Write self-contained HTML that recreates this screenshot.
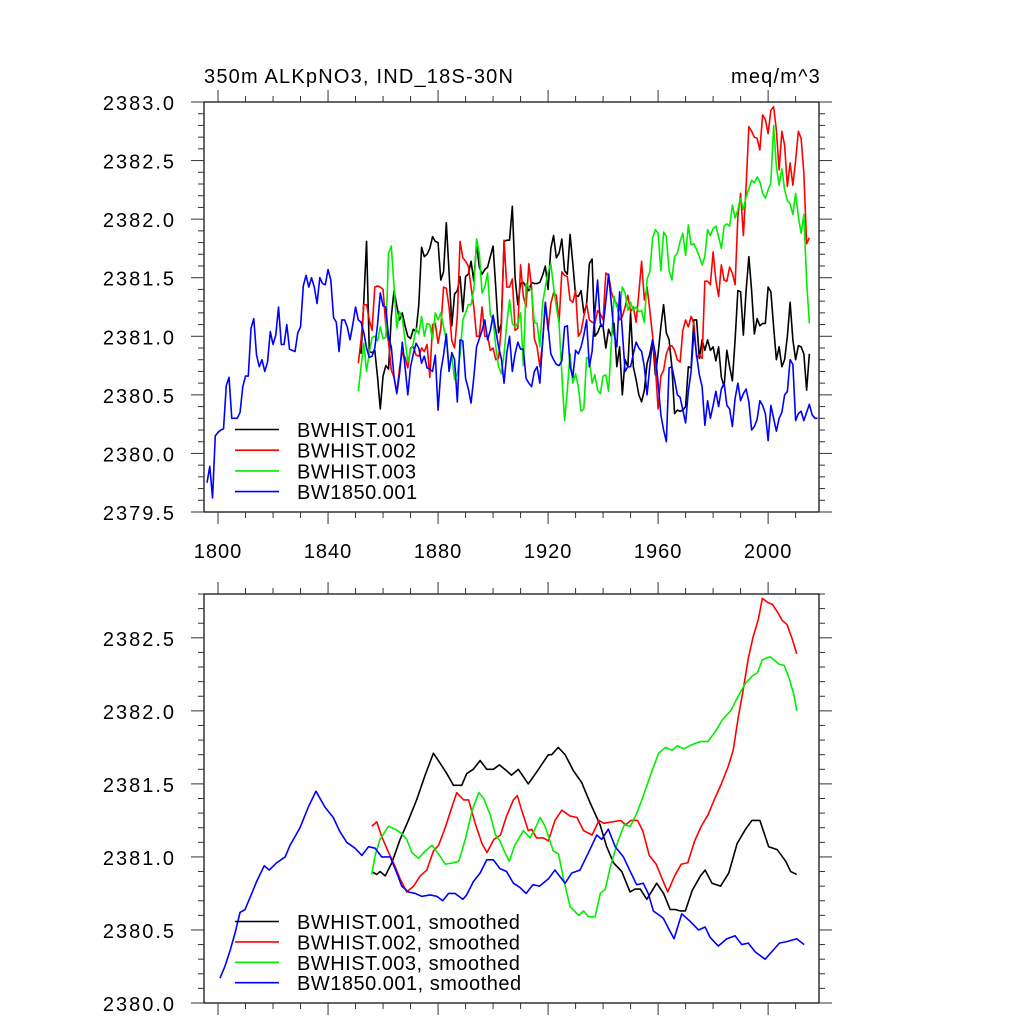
<!DOCTYPE html>
<html><head><meta charset="utf-8"><style>
html,body{margin:0;padding:0;background:#fff;}
svg{display:block;font-family:"Liberation Sans",Arial,sans-serif;}
</style></head><body>
<svg id="chart" width="1024" height="1024" viewBox="0 0 1024 1024" xmlns="http://www.w3.org/2000/svg">
<rect width="1024" height="1024" fill="#fff"/>
<text x="204" y="83" font-size="20" letter-spacing="1.2">350m ALKpNO3, IND_18S-30N</text>
<text x="821" y="83" font-size="20" letter-spacing="1.2" text-anchor="end">meq/m^3</text>
<g id="top"></g>
<g id="bot"></g>
</svg>
<script>
// ---- data: annual series (top panel) ----
const blueStart = 1796;
const blueVals = [2379.75,2379.89,2379.62,2380.15,2380.18,2380.20,2380.21,2380.58,2380.65,2380.30,2380.30,2380.30,2380.35,2380.57,2380.66,2380.66,2381.07,2381.15,2380.84,2380.74,2380.80,2380.70,2380.78,2381.04,2380.93,2381.01,2381.25,2380.93,2380.93,2381.10,2380.89,2380.88,2380.87,2381.03,2381.08,2381.43,2381.52,2381.42,2381.50,2381.42,2381.28,2381.50,2381.45,2381.44,2381.57,2381.48,2381.16,2381.12,2380.87,2381.14,2381.14,2381.08,2380.97,2381.10,2381.25,2381.14,2381.12,2381.03,2380.90,2380.82,2380.83,2380.90,2381.10,2381.37,2381.26,2381.25,2380.99,2380.91,2380.65,2380.51,2380.68,2380.95,2380.74,2380.50,2380.74,2380.85,2380.94,2380.90,2380.77,2380.83,2380.73,2380.72,2380.70,2380.84,2380.37,2380.70,2380.84,2381.02,2380.70,2380.86,2380.80,2380.44,2380.97,2380.96,2380.64,2380.55,2380.43,2380.65,2380.91,2380.98,2381.05,2381.14,2380.97,2381.05,2381.18,2381.05,2380.91,2380.81,2380.60,2380.86,2381.00,2380.70,2380.85,2380.95,2380.89,2380.89,2380.64,2380.60,2380.57,2380.70,2380.74,2380.60,2380.95,2381.29,2381.08,2380.85,2380.80,2380.76,2380.75,2380.79,2381.08,2381.09,2380.74,2380.65,2380.88,2380.85,2380.91,2381.01,2381.14,2380.74,2380.87,2381.20,2381.48,2381.11,2381.08,2381.30,2381.53,2381.28,2381.02,2380.91,2381.38,2381.04,2380.70,2380.74,2380.74,2380.85,2380.95,2380.90,2380.87,2380.74,2380.50,2380.75,2380.97,2380.85,2380.60,2380.33,2380.20,2380.10,2380.73,2380.74,2380.63,2380.50,2380.48,2380.37,2380.26,2380.53,2380.70,2381.04,2380.84,2380.67,2380.57,2380.24,2380.45,2380.30,2380.41,2380.53,2380.40,2380.55,2380.60,2380.41,2380.38,2380.23,2380.47,2380.60,2380.45,2380.51,2380.55,2380.44,2380.20,2380.23,2380.29,2380.45,2380.41,2380.34,2380.11,2380.41,2380.30,2380.19,2380.30,2380.35,2380.50,2380.53,2380.80,2380.76,2380.28,2380.34,2380.36,2380.28,2380.35,2380.42,2380.33,2380.30,2380.30];
const blackStart = 1852;
const blackVals = [2380.85,2381.30,2381.81,2380.87,2380.86,2380.88,2380.65,2380.38,2380.66,2380.75,2380.72,2381.17,2381.39,2381.26,2381.14,2381.20,2381.09,2381.00,2380.98,2381.06,2381.04,2381.27,2381.76,2381.68,2381.70,2381.75,2381.85,2381.81,2381.80,2381.48,2381.55,2381.97,2381.55,2381.09,2381.36,2381.39,2381.51,2381.21,2381.51,2381.53,2381.64,2381.47,2381.79,2381.59,2381.53,2381.57,2381.59,2381.68,2381.77,2381.41,2381.03,2381.11,2381.81,2381.82,2381.82,2382.11,2381.50,2381.27,2381.45,2381.46,2381.42,2381.39,2381.46,2381.45,2381.45,2381.46,2381.52,2381.60,2381.40,2381.75,2381.86,2381.67,2381.71,2381.83,2381.56,2381.53,2381.87,2381.62,2381.35,2381.34,2381.39,2381.20,2381.27,2381.62,2381.66,2381.00,2381.03,2381.09,2381.08,2380.90,2381.06,2381.00,2381.11,2380.74,2380.91,2380.50,2380.80,2380.74,2381.20,2380.74,2380.63,2380.50,2380.44,2380.54,2380.77,2380.85,2380.97,2380.67,2380.85,2381.08,2381.27,2381.03,2380.97,2380.74,2380.34,2380.37,2380.36,2380.37,2380.40,2380.74,2380.73,2381.14,2381.14,2380.81,2380.97,2380.88,2380.97,2380.88,2380.91,2380.79,2380.91,2380.65,2380.57,2380.88,2380.74,2380.62,2380.97,2381.39,2381.38,2381.01,2381.39,2381.68,2381.39,2381.02,2381.15,2381.09,2381.11,2381.11,2381.42,2381.38,2381.08,2380.80,2380.91,2380.74,2380.80,2381.00,2381.29,2380.97,2380.80,2380.92,2380.91,2380.85,2380.54,2380.85];
const redStart = 1851;
const redVals = [2380.77,2380.97,2381.27,2381.27,2381.14,2381.05,2381.42,2381.43,2381.42,2381.40,2381.09,2380.95,2380.71,2380.65,2380.52,2380.73,2380.86,2380.82,2380.73,2380.90,2380.91,2380.84,2380.83,2380.90,2380.87,2380.93,2380.65,2381.10,2381.11,2380.94,2381.07,2381.42,2381.41,2381.25,2380.96,2380.90,2381.17,2381.81,2381.67,2381.64,2381.60,2381.42,2381.25,2381.00,2381.00,2381.25,2381.00,2381.00,2380.88,2380.90,2380.80,2380.81,2381.08,2381.82,2381.42,2381.42,2381.49,2381.05,2381.07,2381.61,2381.34,2381.25,2381.62,2381.42,2380.98,2380.91,2380.74,2380.94,2381.29,2381.05,2381.28,2381.37,2381.35,2381.12,2381.55,2381.52,2381.51,2381.31,2381.29,2381.39,2381.00,2381.04,2381.17,2381.28,2381.14,2381.12,2381.11,2381.22,2381.19,2381.14,2381.54,2381.52,2381.38,2381.31,2381.28,2381.14,2381.17,2381.25,2381.35,2381.21,2381.25,2381.12,2381.37,2381.64,2381.31,2381.42,2381.22,2381.00,2380.74,2380.38,2380.66,2380.71,2380.85,2380.91,2380.92,2380.88,2380.80,2380.78,2381.05,2381.14,2381.08,2381.17,2381.11,2380.82,2380.84,2380.81,2381.47,2381.47,2381.44,2381.72,2381.48,2381.34,2381.61,2381.48,2381.47,2381.59,2381.54,2381.44,2382.02,2382.22,2381.86,2382.28,2382.79,2382.75,2382.70,2382.69,2382.59,2382.89,2382.85,2382.73,2382.93,2382.96,2382.76,2382.42,2382.75,2382.63,2382.28,2382.48,2382.29,2382.50,2382.75,2382.69,2382.39,2381.79,2381.84];
const greenStart = 1851;
const greenVals = [2380.53,2380.74,2380.94,2380.70,2380.86,2380.99,2381.00,2380.96,2381.08,2380.98,2380.99,2381.71,2381.77,2381.42,2381.07,2381.21,2381.15,2380.97,2380.78,2380.88,2380.94,2381.07,2381.02,2381.17,2381.00,2381.11,2381.10,2380.97,2381.20,2381.14,2381.20,2381.08,2380.97,2380.74,2380.83,2380.63,2380.68,2380.84,2381.14,2381.20,2381.27,2381.27,2381.40,2381.83,2381.71,2381.37,2381.42,2381.54,2381.18,2381.14,2380.91,2380.74,2380.68,2380.85,2381.11,2381.31,2381.11,2381.08,2381.11,2381.20,2380.75,2381.45,2381.42,2381.39,2381.12,2381.11,2380.91,2381.28,2381.42,2381.55,2381.62,2381.42,2381.25,2381.11,2380.68,2380.28,2380.54,2380.85,2380.60,2380.68,2380.57,2380.36,2380.38,2380.82,2380.80,2380.60,2380.67,2380.54,2380.51,2380.66,2380.67,2380.53,2380.94,2381.34,2381.25,2381.22,2381.42,2381.37,2381.22,2381.29,2381.22,2381.25,2381.21,2381.22,2381.12,2381.49,2381.55,2381.84,2381.91,2381.88,2381.56,2381.89,2381.85,2381.56,2381.48,2381.68,2381.71,2381.81,2381.88,2381.69,2381.95,2381.78,2381.79,2381.74,2381.68,2381.61,2381.68,2381.91,2381.86,2381.92,2381.94,2381.85,2381.75,2381.94,2381.96,2381.94,2382.12,2382.01,2382.08,2382.18,2382.08,2382.19,2382.26,2382.33,2382.31,2382.36,2382.32,2382.22,2382.18,2382.25,2382.31,2382.80,2382.45,2382.29,2382.43,2382.25,2382.16,2382.13,2382.04,2382.22,2382.02,2381.88,2382.04,2381.47,2381.11];

// ---- data: smoothed series (bottom panel) ----
const sBlueYears = [1800.7,1802.5,1804.4,1806.2,1808,1809.8,1811.6,1814,1816.8,1818.6,1821.3,1824.4,1826.2,1829.8,1832.8,1835.6,1838.9,1841.9,1844.4,1846.8,1849.8,1852.3,1854.7,1857.1,1859.5,1862.6,1865,1866.8,1869.2,1871.7,1874.1,1877.1,1879.6,1881.7,1883.8,1886.2,1889,1890.4,1892.8,1895.3,1897.7,1900.1,1902.5,1904.9,1907.4,1909.8,1912,1914.5,1916.9,1920.1,1922.5,1926.2,1928.6,1931.6,1934.7,1937.7,1939.5,1941.9,1944.4,1947.4,1949.9,1952.2,1954.6,1956.4,1958.3,1961.9,1963.8,1965.8,1968.6,1971.6,1974.7,1977.1,1978.9,1981.9,1985,1988,1990.4,1992.8,1995.3,1998.9,2001.3,2004.1,2006.8,2010.4,2013.1];
const sBlueVals = [2380.17,2380.25,2380.36,2380.48,2380.62,2380.64,2380.72,2380.83,2380.94,2380.91,2380.96,2381.00,2381.08,2381.20,2381.34,2381.45,2381.34,2381.27,2381.17,2381.10,2381.06,2381.01,2381.07,2381.06,2381.00,2381.00,2380.89,2380.80,2380.76,2380.75,2380.73,2380.74,2380.73,2380.70,2380.75,2380.75,2380.71,2380.74,2380.83,2380.89,2380.98,2380.98,2380.92,2380.90,2380.82,2380.79,2380.75,2380.81,2380.80,2380.85,2380.91,2380.82,2380.89,2380.91,2381.03,2381.15,2381.12,2381.19,2381.07,2381.00,2380.90,2380.81,2380.82,2380.75,2380.63,2380.58,2380.51,2380.44,2380.61,2380.56,2380.50,2380.52,2380.45,2380.39,2380.44,2380.46,2380.40,2380.41,2380.35,2380.30,2380.35,2380.41,2380.42,2380.44,2380.40];
const sBlackYears = [1855.9,1857.7,1858.9,1860.8,1863.2,1866.2,1869.2,1872.2,1875.3,1878.3,1880.8,1883.2,1885.6,1888.6,1890.4,1892.8,1895.3,1897.7,1900.1,1902.3,1904.9,1906.7,1909.2,1912.8,1915.8,1920.1,1921.3,1923.7,1926.2,1929.2,1932.2,1935.3,1938.9,1941.3,1943.8,1946.8,1949.8,1951.6,1953.5,1955.9,1959.5,1962,1964.4,1966.2,1968.1,1969.9,1972.4,1975.4,1977.1,1979.6,1982.7,1985.7,1988.7,1991.8,1994.1,1997,2000.2,2003.3,2006.4,2008.2,2010.4];
const sBlackVals = [2380.90,2380.88,2380.90,2380.87,2380.96,2381.12,2381.25,2381.39,2381.56,2381.71,2381.64,2381.57,2381.49,2381.49,2381.57,2381.60,2381.66,2381.60,2381.60,2381.63,2381.59,2381.56,2381.60,2381.50,2381.58,2381.70,2381.70,2381.75,2381.70,2381.59,2381.51,2381.37,2381.22,2381.07,2380.96,2380.90,2380.76,2380.78,2380.78,2380.71,2380.82,2380.75,2380.64,2380.64,2380.63,2380.63,2380.77,2380.87,2380.91,2380.82,2380.80,2380.89,2381.09,2381.19,2381.25,2381.25,2381.07,2381.05,2380.97,2380.90,2380.88];
const sRedYears = [1855.9,1857.7,1859.5,1862,1863.8,1866.2,1868.6,1871.1,1873.5,1875.9,1878.3,1880.2,1882.6,1885,1886.8,1889.3,1891.1,1893.5,1896,1897.8,1900.3,1902.7,1904.9,1907.4,1908.8,1910.4,1912.8,1914,1915.8,1918.3,1920.1,1922.5,1925,1928,1930.5,1932.9,1936,1938.5,1940.3,1943.3,1946.4,1948.2,1950.1,1952.5,1954.4,1956.8,1959.3,1961.7,1963.5,1966,1968.4,1970.8,1973.3,1975.7,1978.2,1980.6,1983,1985.5,1987.3,1989.1,1991,1992.8,1994.6,1996.5,1997.9,2000,2001.5,2003.3,2005.1,2006.9,2008.8,2010.4];
const sRedVals = [2381.21,2381.24,2381.14,2381.03,2380.96,2380.85,2380.76,2380.80,2380.87,2380.91,2381.04,2381.08,2381.20,2381.34,2381.44,2381.39,2381.39,2381.23,2381.09,2381.03,2381.12,2381.15,2381.28,2381.39,2381.42,2381.32,2381.18,2381.19,2381.13,2381.13,2381.11,2381.25,2381.32,2381.28,2381.27,2381.18,2381.15,2381.25,2381.23,2381.24,2381.25,2381.22,2381.25,2381.25,2381.18,2381.01,2380.95,2380.84,2380.76,2380.87,2380.95,2380.96,2381.11,2381.21,2381.29,2381.40,2381.50,2381.62,2381.73,2381.95,2382.15,2382.36,2382.51,2382.63,2382.77,2382.74,2382.73,2382.68,2382.62,2382.59,2382.49,2382.39];
const sGreenYears = [1855.9,1857.1,1858.9,1862,1864.4,1866.8,1868.6,1870.5,1872.9,1875.3,1877.8,1880.2,1882.6,1885.6,1887.5,1889.9,1892.4,1894.8,1896.6,1899.1,1900.9,1902.5,1904.3,1905.9,1907.9,1911,1913.4,1915.2,1917.1,1918.9,1921.9,1923.8,1925.6,1928,1931.1,1932.9,1934.7,1937.1,1939,1940.8,1942.6,1945.1,1947.7,1949.9,1951.8,1953.5,1955.4,1957.8,1960.2,1962.7,1965.1,1966.9,1969.4,1972.4,1975.4,1978.1,1980.9,1983.4,1986.4,1989.4,1991.8,1994.3,1996.1,1997.9,2000.8,2004,2005.9,2007.7,2009.5,2010.4];
const sGreenVals = [2380.88,2381.01,2381.12,2381.21,2381.19,2381.16,2381.12,2381.03,2380.99,2381.04,2381.08,2381.02,2380.95,2380.96,2380.97,2381.12,2381.32,2381.44,2381.40,2381.28,2381.15,2381.11,2381.03,2380.97,2381.08,2381.18,2381.13,2381.19,2381.27,2381.21,2381.04,2381.02,2380.85,2380.66,2380.60,2380.63,2380.59,2380.59,2380.75,2380.78,2380.93,2381.09,2381.22,2381.21,2381.28,2381.36,2381.46,2381.59,2381.71,2381.75,2381.73,2381.76,2381.74,2381.77,2381.79,2381.79,2381.86,2381.94,2382.00,2382.11,2382.19,2382.24,2382.26,2382.35,2382.37,2382.32,2382.31,2382.22,2382.10,2382.00];

// ---- axis tick labels ----
const topYTicks = ["2379.5","2380.0","2380.5","2381.0","2381.5","2382.0","2382.5","2383.0"];
const botYTicks = ["2380.0","2380.5","2381.0","2381.5","2382.0","2382.5"];
const xTickLabels = ["1800","1840","1880","1920","1960","2000"];
const topLegend = ["BWHIST.001","BWHIST.002","BWHIST.003","BW1850.001"];
const botLegend = ["BWHIST.001, smoothed","BWHIST.002, smoothed","BWHIST.003, smoothed","BW1850.001, smoothed"];
const colors = ["#000000","#ff0000","#00ee00","#0000ff"];

const NS = "http://www.w3.org/2000/svg";
const X0 = 204, X1 = 819, XMIN = 1794.9, XMAX = 2018.5;
function xs(yr){ return X0 + (yr - XMIN) / (XMAX - XMIN) * (X1 - X0); }
function mk(tag, attrs, parent){ const e = document.createElementNS(NS, tag); for (const k in attrs) e.setAttribute(k, attrs[k]); parent.appendChild(e); return e; }

function panel(g, top, bottom, vmin, vmax, yTicks, minorStep, showXLabels){
  const ys = v => bottom - (v - vmin) / (vmax - vmin) * (bottom - top);
  const frame = mk('rect', {x:X0, y:top, width:X1-X0, height:bottom-top, fill:'none', stroke:'#000', 'stroke-width':1.2}, g);
  
  
  for (let yr = 1800; yr <= 2010; yr += 10) {
    const x = xs(yr), major = (yr - 1800) % 40 === 0, L = major ? 12 : 6;
    const t1 = mk('line', {x1:x, x2:x, y1:top, y2:top-L, stroke:'#333', 'stroke-width':1}, g);
    
    
    const t2 = mk('line', {x1:x, x2:x, y1:bottom, y2:bottom+L, stroke:'#333', 'stroke-width':1}, g);
    
    
  }
  if (showXLabels) {
    xTickLabels.forEach(lbl => {
      const t = mk('text', {x:xs(+lbl), y:bottom+46, 'font-size':20, 'letter-spacing':1, 'text-anchor':'middle'}, g);
      t.textContent = lbl;
      
      
    });
  }
  const n = Math.round((vmax - vmin) / minorStep);
  for (let i = 0; i <= n; i++) {
    const v = vmin + i * minorStep, y = ys(v);
    if (y < top - 0.5) continue;
    const major = i % 5 === 0, L = major ? 13 : 6;
    const a = mk('line', {x1:X0, x2:X0-L, y1:y, y2:y, stroke:'#333', 'stroke-width':1}, g);
    
    
    const b = mk('line', {x1:X1, x2:X1+L, y1:y, y2:y, stroke:'#333', 'stroke-width':1}, g);
    
    
  }
  yTicks.forEach(lbl => {
    const t = mk('text', {x:176, y:ys(+lbl)+8, 'font-size':20, 'letter-spacing':2, 'text-anchor':'end'}, g);
    t.textContent = lbl;
    
    
  });
  return ys;
}

function drawLine(g, years, vals, ys, color, name){
  const d = years.map((yr, i) => (i ? 'L' : 'M') + xs(yr).toFixed(2) + ',' + ys(vals[i]).toFixed(2)).join('');
  const p = mk('path', {d:d, fill:'none', stroke:color, 'stroke-width':1.6, 'stroke-linejoin':'round'}, g);
  
  
}
function annual(start, vals){ return vals.map((v, i) => start + i); }

function legend(g, labels, yFirst, step){
  labels.forEach((lbl, i) => {
    const y = yFirst + i * step;
    const l = mk('line', {x1:235, x2:279, y1:y, y2:y, stroke:colors[i], 'stroke-width':1.6}, g);
    
    
    const t = mk('text', {x:297, y:y+7.5, 'font-size':20, 'letter-spacing':0.5}, g);
    t.textContent = lbl;
    
    
  });
}

const gt = document.getElementById('top');
const ysT = panel(gt, 102, 512, 2379.5, 2383.0, topYTicks, 0.1, true);
drawLine(gt, annual(blackStart, blackVals), blackVals, ysT, colors[0], 'series-bwhist-001');
drawLine(gt, annual(redStart, redVals), redVals, ysT, colors[1], 'series-bwhist-002');
drawLine(gt, annual(greenStart, greenVals), greenVals, ysT, colors[2], 'series-bwhist-003');
drawLine(gt, annual(blueStart, blueVals), blueVals, ysT, colors[3], 'series-bw1850-001');
legend(gt, topLegend, 429.5, 20.7);

const gb = document.getElementById('bot');
const ysB = panel(gb, 594, 1003, 2380.0, 2382.80, botYTicks, 0.1, false);
drawLine(gb, sBlackYears, sBlackVals, ysB, colors[0], 'smoothed-bwhist-001');
drawLine(gb, sRedYears, sRedVals, ysB, colors[1], 'smoothed-bwhist-002');
drawLine(gb, sGreenYears, sGreenVals, ysB, colors[2], 'smoothed-bwhist-003');
drawLine(gb, sBlueYears, sBlueVals, ysB, colors[3], 'smoothed-bw1850-001');
legend(gb, botLegend, 921.5, 20.4);
</script>
</body></html>
